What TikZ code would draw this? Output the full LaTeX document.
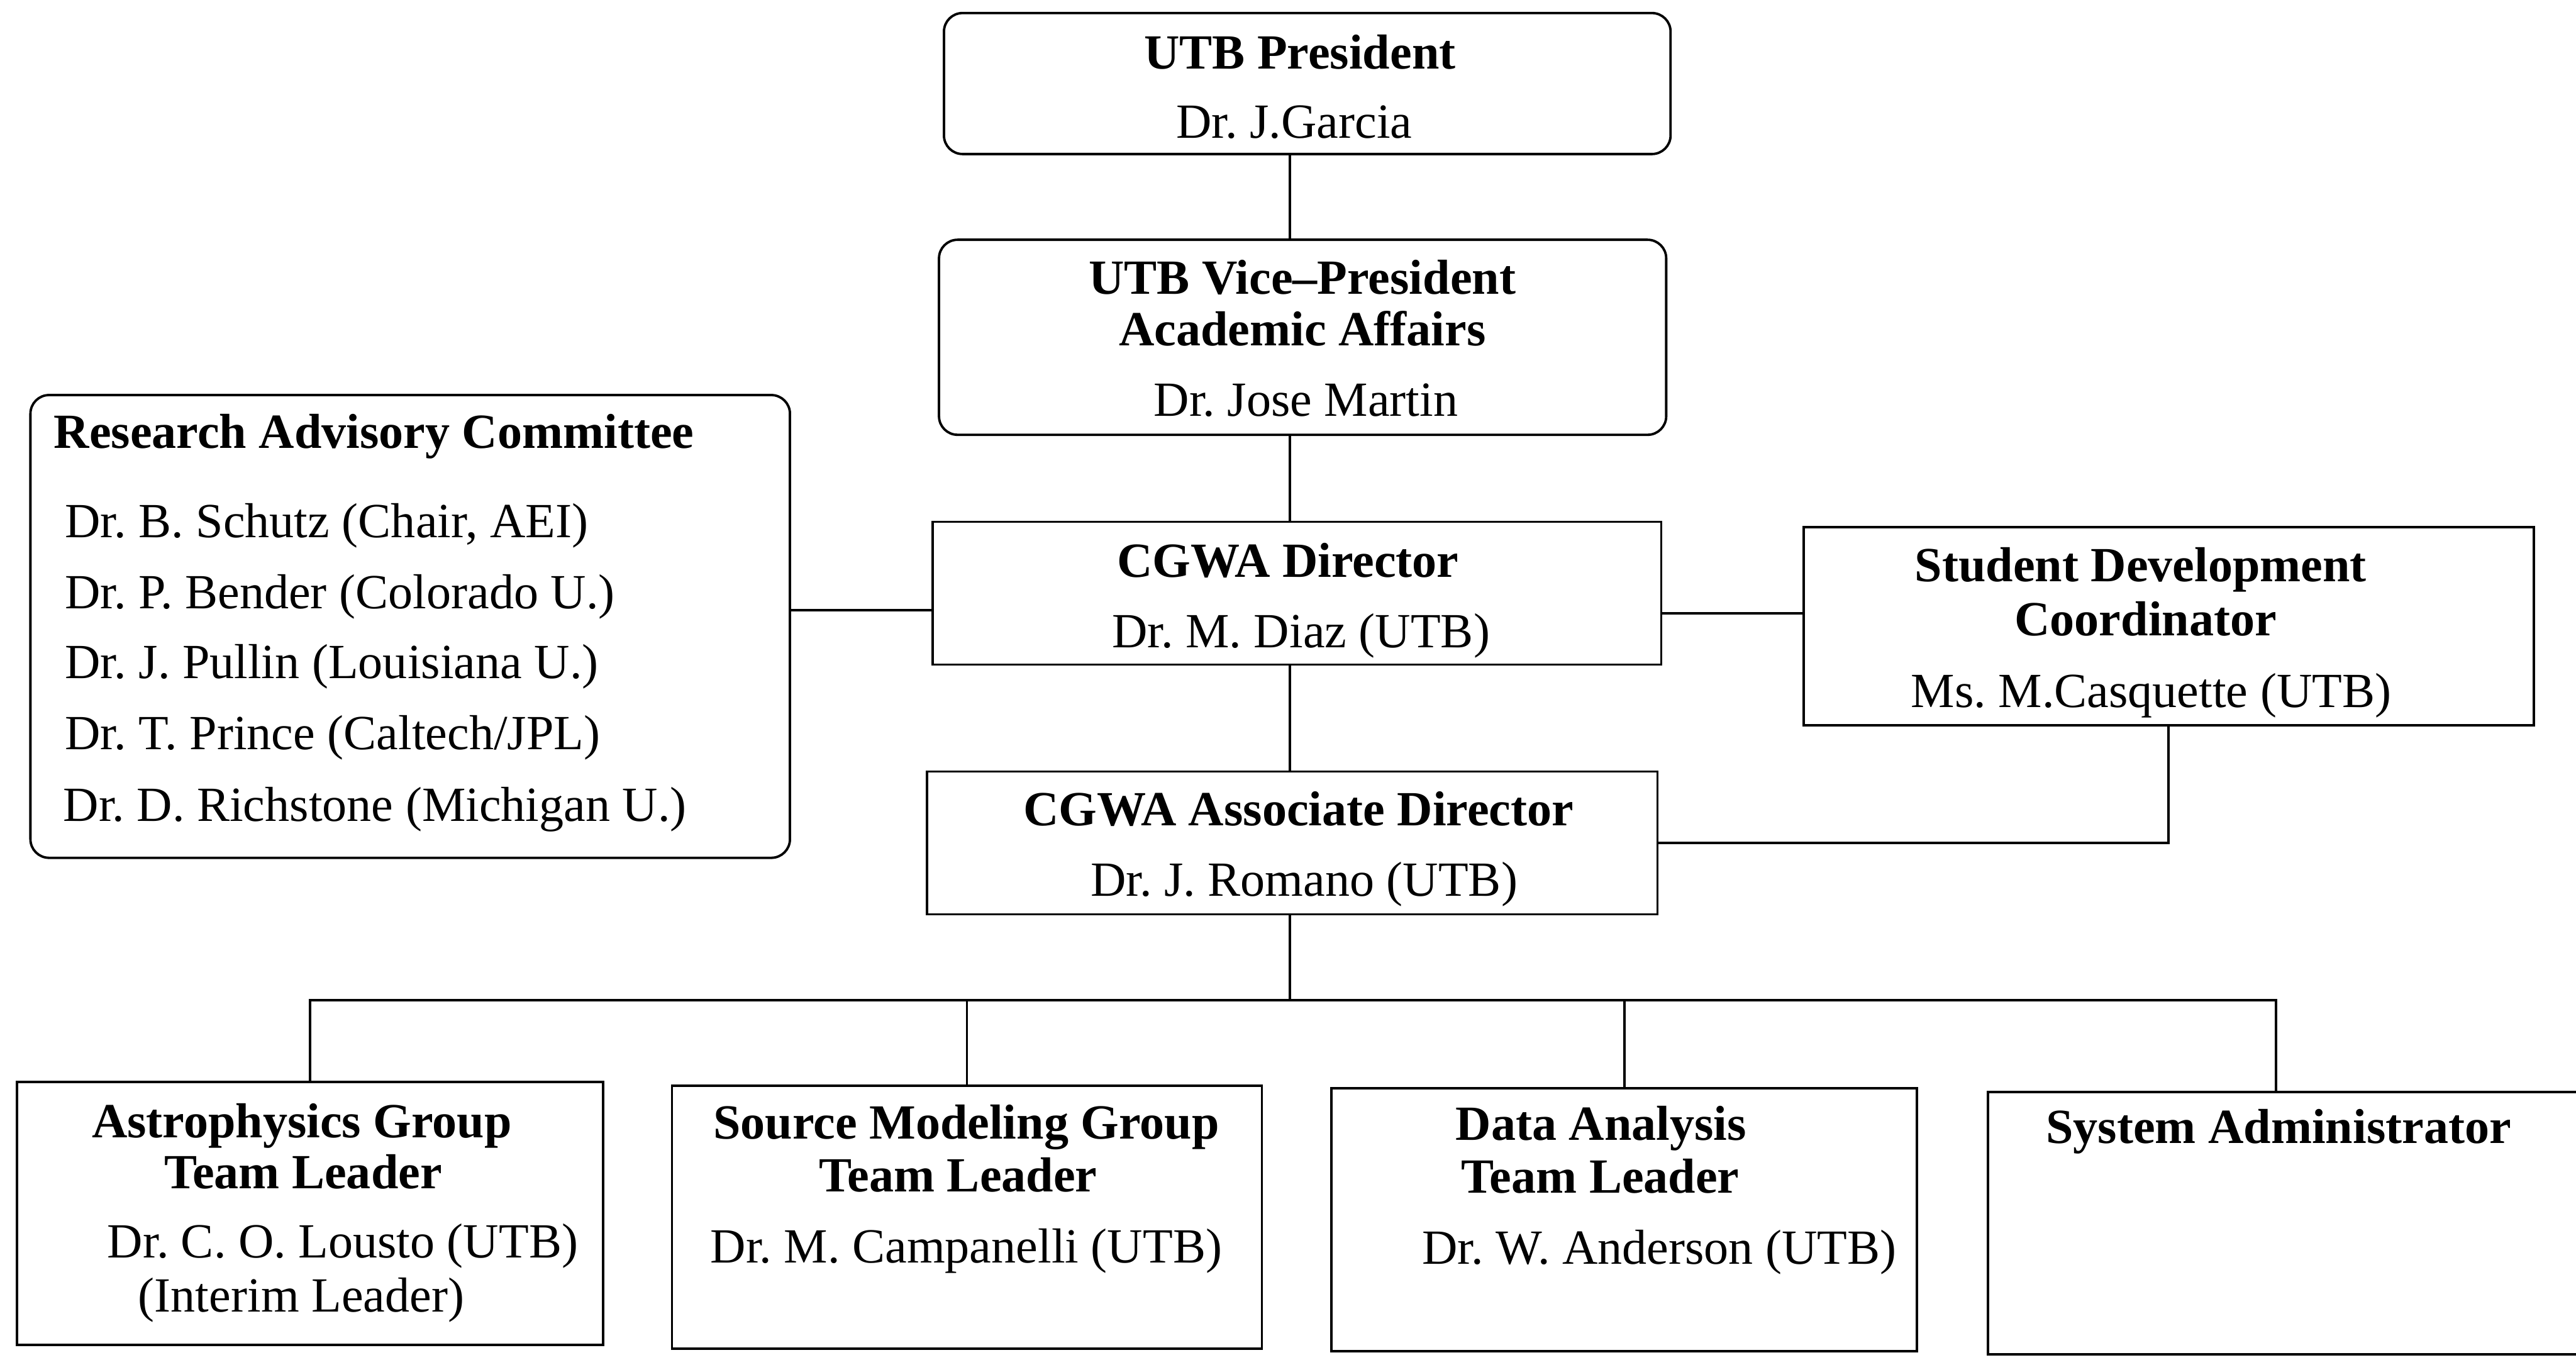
\documentclass[tikz,border=0pt]{standalone}
\usepackage{fontspec}
\setmainfont{Liberation Serif}
\frenchspacing

\begin{document}
\begin{tikzpicture}[line width=1.1pt]
\tikzstyle{every node}+=[inner sep=0pt, font=\fontsize{22.5}{27}\selectfont]
\tikzstyle{roundbox}=[draw, rectangle, rounded corners=0.3cm]
\tikzstyle{sqbox}=[draw, rectangle]
\tikzstyle{head}=[anchor=base, font=\fontsize{22.5}{27}\selectfont\bfseries]
\tikzstyle{who}=[anchor=base]
\clip (0,0) rectangle (41.48,-21.89);
% boxes
\node (pres) [roundbox, minimum width=11.70cm, minimum height=2.27cm] at (21.05,-1.345) {};
\node (vp) [roundbox, minimum width=11.71cm, minimum height=3.14cm] at (20.975,-5.43) {};
\node (rac) [roundbox, minimum width=12.23cm, minimum height=7.45cm] at (6.605,-10.085) {};
\node (dir) [sqbox, minimum width=11.73cm, minimum height=2.30cm] at (20.885,-9.55) {};
\node (sdc) [sqbox, minimum width=11.76cm, minimum height=3.19cm] at (34.92,-10.085) {};
\node (assoc) [sqbox, minimum width=11.76cm, minimum height=2.30cm] at (20.81,-13.57) {};
\node (astro) [sqbox, minimum width=9.44cm, minimum height=4.23cm] at (4.99,-19.535) {};
\node (source) [sqbox, minimum width=9.50cm, minimum height=4.23cm] at (15.57,-19.595) {};
\node (data) [sqbox, minimum width=9.43cm, minimum height=4.23cm] at (26.155,-19.635) {};
\node (sysad) [sqbox, minimum width=9.64cm, minimum height=4.22cm] at (36.83,-19.69) {};
% texts
\node (presA) [head] at (20.93,-1.11) {UTB President};
\node (presB) [who] at (20.84,-2.22) {Dr. J.Garcia};
\node (vpA) [head] at (20.97,-4.73) {UTB Vice--President};
\node (vpB) [head] at (20.97,-5.56) {Academic Affairs};
\node (vpC) [who] at (21.03,-6.70) {Dr. Jose Martin};
\node (racA) [head, anchor=base west] at (0.85,-7.22) {Research Advisory Committee};
\node (racB) [who, anchor=base west] at (1.03,-8.65) {Dr. B. Schutz (Chair, AEI)};
\node (racC) [who, anchor=base west] at (1.03,-9.80) {Dr. P. Bender (Colorado U.)};
\node (racD) [who, anchor=base west] at (1.03,-10.92) {Dr. J. Pullin (Louisiana U.)};
\node (racE) [who, anchor=base west] at (1.03,-12.07) {Dr. T. Prince (Caltech/JPL)};
\node (racF) [who, anchor=base west] at (1.00,-13.22) {Dr. D. Richstone (Michigan U.)};
\node (dirA) [head] at (20.74,-9.29) {CGWA Director};
\node (dirB) [who] at (20.95,-10.43) {Dr. M. Diaz (UTB)};
\node (sdcA) [head] at (34.47,-9.36) {Student Development};
\node (sdcB) [head] at (34.55,-10.23) {Coordinator};
\node (sdcC) [who] at (34.64,-11.39) {Ms. M.Casquette (UTB)};
\node (assocA) [head] at (20.91,-13.29) {CGWA Associate Director};
\node (assocB) [who] at (21.00,-14.43) {Dr. J. Romano (UTB)};
\node (astroA) [head] at (4.86,-18.31) {Astrophysics Group};
\node (astroB) [head] at (4.88,-19.13) {Team Leader};
\node (astroC) [who] at (5.52,-20.25) {Dr. C. O. Lousto (UTB)};
\node (astroD) [who] at (4.85,-21.12) {(Interim Leader)};
\node (sourceA) [head] at (15.56,-18.33) {Source Modeling Group};
\node (sourceB) [head] at (15.43,-19.19) {Team Leader};
\node (sourceC) [who] at (15.56,-20.33) {Dr. M. Campanelli (UTB)};
\node (dataA) [head] at (25.78,-18.35) {Data Analysis};
\node (dataB) [head] at (25.77,-19.21) {Team Leader};
\node (dataC) [who] at (26.72,-20.35) {Dr. W. Anderson (UTB)};
\node (sysadA) [head] at (36.69,-18.41) {System Administrator};
% connectors
\coordinate (spine) at (20.77,0);
\coordinate (midL) at (0,-9.82);
\coordinate (midR) at (0,-9.87);
\coordinate (bus) at (0,-16.10);
\draw (pres.south -| spine) -- (vp.north -| spine);
\draw (vp.south -| spine) -- (dir.north -| spine);
\draw (dir.south -| spine) -- (assoc.north -| spine);
\draw (rac.east |- midL) -- (dir.west |- midL);
\draw (dir.east |- midR) -- (sdc.west |- midR);
\draw (sdc.south) |- (assoc.east);
\draw (assoc.south -| spine) -- (spine |- bus);
\draw (astro.north) |- ([xshift=-1.8mm]sysad.north |- bus) -- ([xshift=-1.8mm]sysad.north);
\draw (source.north) -- (source.north |- bus);
\draw (data.north) -- (data.north |- bus);
\end{tikzpicture}
\end{document}
